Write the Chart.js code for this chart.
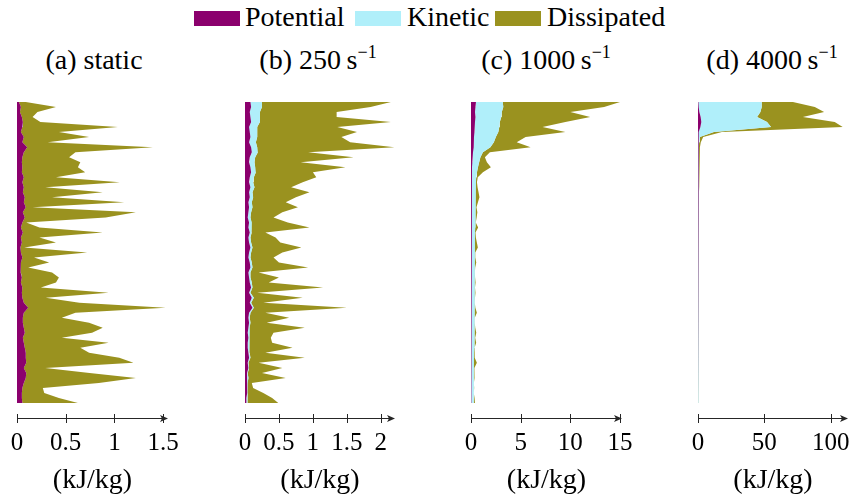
<!DOCTYPE html>
<html>
<head>
<meta charset="utf-8">
<script src="https://cdn.jsdelivr.net/npm/chart.js@4.4.1/dist/chart.umd.min.js"></script>
<style>
  body { margin: 0; background: #fff; }
  #wrap { position: relative; width: 853px; height: 497px; overflow: hidden; font-family: "Liberation Serif", "DejaVu Serif", "Times New Roman", serif; color: #000; }
  canvas { position: absolute; top: 0; }
  .title { position: absolute; top: 46px; font-size: 28px; line-height: 28px; transform: translateX(-50%); white-space: nowrap; }
  .title sup { font-size: 18px; vertical-align: 11px; line-height: 0; }
  .box { position: absolute; top: 11px; width: 46px; height: 15px; }
  .leg { position: absolute; top: 3px; font-size: 28px; line-height: 28px; white-space: nowrap; }
</style>
</head>
<body>
<div id="wrap">
  <div class="box" style="left:194px;background:#8b006d"></div>
  <div class="leg" style="left:245px">Potential</div>
  <div class="box" style="left:355px;background:#b0effa"></div>
  <div class="leg" style="left:407px">Kinetic</div>
  <div class="box" style="left:495px;background:#9a921f"></div>
  <div class="leg" style="left:547px">Dissipated</div>

  <div class="title" style="left:94px">(a) static</div>
  <div class="title" style="left:318px">(b) 250&#8201;s<sup>−1</sup></div>
  <div class="title" style="left:546px">(c) 1000&#8201;s<sup>−1</sup></div>
  <div class="title" style="left:772px">(d) 4000&#8201;s<sup>−1</sup></div>

  <canvas id="chartA" width="241" height="497" style="left:-23px"></canvas>
  <canvas id="chartB" width="240" height="497" style="left:205px"></canvas>
  <canvas id="chartC" width="241" height="497" style="left:431px"></canvas>
  <canvas id="chartD" width="240" height="497" style="left:658px"></canvas>
</div>
<script>
// Positions along the specimen (top to bottom)
const positions = Array.from({ length: 61 }, (_, i) => i);

const colors = ["#8b006d", "#b0effa", "#9a921f"];
const seriesNames = ["Potential", "Kinetic", "Dissipated"];
const fontFamily = "'Liberation Serif', 'DejaVu Serif', 'Times New Roman', serif";

// (a) static
const potA = [0.02, 0.04, 0.03, 0.05, 0.06, 0.055, 0.04, 0.07, 0.055, 0.105,
  0.07, 0.055, 0.05, 0.055, 0.05, 0.07, 0.055, 0.07, 0.06, 0.08,
  0.07, 0.09, 0.06, 0.08, 0.055, 0.04, 0.06, 0.04, 0.05, 0.035,
  0.04, 0.055, 0.04, 0.035, 0.04, 0.05, 0.04, 0.055, 0.05, 0.055,
  0.07, 0.115, 0.07, 0.06, 0.06, 0.07, 0.08, 0.06, 0.07, 0.08,
  0.09, 0.09, 0.095, 0.07, 0.095, 0.09, 0.07, 0.055, 0.05, 0.05, 0.055];
const kinA = [0, 0, 0, 0, 0, 0, 0, 0, 0, 0,
  0, 0, 0, 0, 0, 0, 0, 0, 0, 0,
  0, 0, 0, 0, 0, 0, 0, 0, 0, 0,
  0, 0, 0, 0, 0, 0, 0, 0, 0, 0,
  0, 0, 0, 0, 0, 0, 0, 0, 0, 0,
  0, 0, 0, 0, 0, 0, 0, 0, 0, 0, 0];
const dissA = [0.07, 0.36, 0.18, 0.11, 0.18, 0.98, 0.39, 0.67, 0.26, 1.29,
  0.53, 0.48, 0.60, 0.57, 0.65, 0.33, 1.00, 0.22, 0.82, 0.28,
  1.03, 0.07, 1.16, 0.83, 0.04, 0.19, 0.82, 0.19, 0.35, 0.04,
  0.68, 0.12, 0.29, 0.08, 0.32, 0.38, 0.36, 0.19, 0.89, 0.24,
  0.57, 1.41, 0.53, 0.40, 0.68, 0.81, 0.69, 0.40, 0.87, 0.57,
  0.65, 0.96, 1.10, 0.22, 0.65, 1.13, 0.77, 0.21, 0.23, 0.38, 0.57];

// (b) 250 s^-1
const potB = [0.08, 0.09, 0.07, 0.08, 0.09, 0.06, 0.07, 0.08, 0.06, 0.09,
  0.1, 0.07, 0.06, 0.08, 0.09, 0.07, 0.06, 0.08, 0.06, 0.07,
  0.05, 0.06, 0.05, 0.04, 0.06, 0.05, 0.07, 0.05, 0.06, 0.08,
  0.06, 0.05, 0.07, 0.08, 0.05, 0.06, 0.07, 0.09, 0.06, 0.1,
  0.07, 0.11, 0.06, 0.05, 0.06, 0.05, 0.04, 0.05, 0.04, 0.04,
  0.05, 0.06, 0.04, 0.05, 0.03, 0.04, 0.03, 0.03, 0.03, 0.02, 0.02];
const kinB = [0.17, 0.16, 0.15, 0.14, 0.13, 0.12, 0.11, 0.1, 0.1, 0.09,
  0.09, 0.08, 0.08, 0.07, 0.07, 0.06, 0.06, 0.06, 0.05, 0.05,
  0.05, 0.05, 0.04, 0.04, 0.04, 0.04, 0.03, 0.03, 0.03, 0.03,
  0.03, 0.03, 0.03, 0.03, 0.03, 0.02, 0.03, 0.02, 0.02, 0.03,
  0.02, 0.02, 0.02, 0.02, 0.02, 0.02, 0.02, 0.02, 0.02, 0.02,
  0.02, 0.02, 0.01, 0.01, 0.01, 0.01, 0.01, 0.01, 0.01, 0.01, 0.01];
const dissB = [1.90, 1.60, 1.13, 1.13, 1.93, 1.18, 1.47, 1.24, 1.39, 2.02,
  0.74, 1.45, 0.68, 1.33, 0.84, 0.92, 0.73, 0.54, 0.84, 0.63,
  0.50, 0.67, 0.46, 0.34, 0.53, 0.86, 0.20, 0.37, 0.43, 0.72,
  0.46, 0.34, 0.40, 0.82, 0.12, 0.42, 0.25, 1.04, 0.10, 0.72,
  0.18, 1.37, 0.22, 0.58, 0.24, 0.81, 0.36, 0.31, 0.34, 0.64,
  0.23, 0.80, 0.15, 0.49, 0.21, 0.55, 0.06, 0.08, 0.23, 0.37, 0.46];

// (c) 1000 s^-1
const potC = [0.5, 0.45, 0.4, 0.45, 0.4, 0.35, 0.35, 0.3, 0.3, 0.25,
  0.2, 0.15, 0.12, 0.1, 0.1, 0.08, 0.08, 0.06, 0.06, 0.05,
  0.05, 0.05, 0.04, 0.04, 0.05, 0.04, 0.04, 0.03, 0.04, 0.04,
  0.03, 0.03, 0.04, 0.03, 0.03, 0.03, 0.03, 0.03, 0.03, 0.03,
  0.03, 0.03, 0.03, 0.03, 0.03, 0.03, 0.03, 0.03, 0.03, 0.03,
  0.02, 0.02, 0.02, 0.02, 0.02, 0.02, 0.02, 0.02, 0.02, 0.02, 0.02];
const kinC = [2.7, 2.8, 2.7, 2.6, 2.5, 2.5, 2.4, 2.2, 2.0, 1.7,
  1.0, 0.8, 0.7, 0.6, 0.5, 0.45, 0.42, 0.4, 0.4, 0.4,
  0.4, 0.4, 0.4, 0.38, 0.38, 0.38, 0.36, 0.36, 0.35, 0.35,
  0.35, 0.35, 0.34, 0.34, 0.33, 0.33, 0.33, 0.32, 0.32, 0.32,
  0.32, 0.31, 0.31, 0.3, 0.3, 0.3, 0.3, 0.29, 0.29, 0.28,
  0.28, 0.28, 0.27, 0.27, 0.26, 0.26, 0.25, 0.25, 0.24, 0.24, 0.23];
const dissC = [11.8, 10.15, 6.9, 8.95, 6.6, 4.35, 6.75, 3.0, 2.3, 4.05,
  0.7, 0.45, 0.78, 1.3, 0.6, 0.15, 0.1, 0.2, 0.3, 0.4,
  0.25, 0.1, 0.2, 0.15, 0.05, 0.3, 0.05, 0.1, 0.2, 0.3,
  0.05, 0.05, 0.15, 0.05, 0.03, 0.05, 0.1, 0.05, 0.1, 0.05,
  0.03, 0.1, 0.25, 0.05, 0.05, 0.1, 0.2, 0.1, 0.2, 0.05,
  0.05, 0.1, 0.3, 0.05, 0.1, 0.05, 0.02, 0.05, 0.02, 0.1, 0.15];

// (d) 4000 s^-1
const potD = [0.3, 0.5, 1.0, 2.0, 2.5, 1.8, 0.5, 0.2, 0.1, 0.05,
  0.03, 0.02, 0.02, 0.02, 0.02, 0.02, 0.02, 0.02, 0.02, 0.02,
  0.02, 0.02, 0.02, 0.02, 0.01, 0.01, 0.01, 0.01, 0.01, 0.01,
  0.01, 0.01, 0.01, 0.01, 0.01, 0.01, 0.01, 0.01, 0.01, 0.01,
  0.01, 0.01, 0.01, 0.01, 0.01, 0.01, 0.01, 0.01, 0.01, 0.01,
  0.01, 0.01, 0.01, 0.01, 0.01, 0.01, 0.01, 0.01, 0.01, 0.01, 0.01];
const kinD = [47.7, 47.5, 46, 42.5, 49.5, 53.2, 11.5, 1.2, 0.8, 0.6,
  0.5, 0.5, 0.45, 0.45, 0.45, 0.4, 0.4, 0.4, 0.4, 0.4,
  0.4, 0.38, 0.38, 0.38, 0.36, 0.36, 0.36, 0.35, 0.35, 0.35,
  0.35, 0.34, 0.34, 0.33, 0.33, 0.33, 0.32, 0.32, 0.32, 0.31,
  0.31, 0.3, 0.3, 0.3, 0.3, 0.29, 0.29, 0.29, 0.28, 0.28,
  0.28, 0.27, 0.27, 0.27, 0.26, 0.26, 0.26, 0.25, 0.25, 0.25, 0.24];
const dissD = [23.5, 40, 48, 34.5, 51, 54, 6, 2.5, 1.2, 0.8,
  0.6, 0.5, 0.5, 0.45, 0.4, 0.4, 0.35, 0.35, 0.3, 0.3,
  0.3, 0.3, 0.28, 0.28, 0.25, 0.25, 0.25, 0.22, 0.22, 0.2,
  0.2, 0.2, 0.2, 0.18, 0.18, 0.18, 0.15, 0.15, 0.15, 0.15,
  0.15, 0.12, 0.12, 0.12, 0.12, 0.1, 0.1, 0.1, 0.1, 0.1,
  0.1, 0.1, 0.08, 0.08, 0.08, 0.08, 0.08, 0.06, 0.06, 0.06, 0.06];

// Axis line with arrow and crossing tick marks (pgfplots style)
const axisArrow = {
  id: "axisArrow",
  afterDraw(chart) {
    const { ctx, chartArea } = chart;
    const scale = chart.scales.x;
    const y = Math.round(chartArea.bottom + 15) + 0.5;
    const left = scale.getPixelForValue(0);
    const right = chartArea.right;
    ctx.save();
    ctx.strokeStyle = "#262626";
    ctx.fillStyle = "#262626";
    ctx.lineWidth = 1;
    ctx.beginPath();
    ctx.moveTo(left, y);
    ctx.lineTo(right - 4, y);
    ctx.stroke();
    scale.ticks.forEach((t) => {
      const px = Math.round(scale.getPixelForValue(t.value)) + 0.5;
      ctx.beginPath();
      ctx.moveTo(px, y - 4.5);
      ctx.lineTo(px, y + 4.5);
      ctx.stroke();
    });
    ctx.beginPath();
    ctx.moveTo(right, y);
    ctx.lineTo(right - 8, y - 3.5);
    ctx.lineTo(right - 6, y);
    ctx.lineTo(right - 8, y + 3.5);
    ctx.closePath();
    ctx.fill();
    ctx.restore();
  },
};

function makeDataset(i, values) {
  return {
    label: seriesNames[i],
    data: values,
    backgroundColor: colors[i],
    borderColor: colors[i],
    borderWidth: 0,
    pointRadius: 0,
    tension: 0,
    fill: i === 0 ? "origin" : "-1",
  };
}

function makeChart(id, pot, kin, diss, max, step) {
  const ctx = document.getElementById(id).getContext("2d");
  return new Chart(ctx, {
    type: "line",
    data: {
      labels: positions,
      datasets: [makeDataset(0, pot), makeDataset(1, kin), makeDataset(2, diss)],
    },
    options: {
      indexAxis: "y",
      responsive: false,
      animation: false,
      devicePixelRatio: 1,
      layout: { padding: { left: 40, right: 50, top: 102, bottom: 0 } },
      plugins: {
        legend: { display: false },
        tooltip: { enabled: false },
      },
      scales: {
        y: { display: false, offset: false },
        x: {
          stacked: true,
          min: 0,
          max: max,
          grid: { display: false, drawTicks: false },
          border: { display: false },
          ticks: {
            stepSize: step,
            includeBounds: false,
            maxRotation: 0,
            autoSkip: false,
            color: "#000",
            padding: 25,
            font: { family: fontFamily, size: 25 },
            callback: (v) => String(Number(v.toFixed(2))),
          },
          title: {
            display: true,
            text: "(kJ/kg)",
            color: "#000",
            padding: { top: 0, bottom: 0 },
            font: { family: fontFamily, size: 28 },
          },
          afterFit: (scale) => {
            scale.height = 94;
          },
        },
      },
    },
    plugins: [axisArrow],
  });
}

makeChart("chartA", potA, kinA, dissA, 1.55, 0.5);
makeChart("chartB", potB, kinB, dissB, 2.21, 0.5);
makeChart("chartC", potC, kinC, dissC, 15.2, 5);
makeChart("chartD", potD, kinD, dissD, 113, 50);
</script>
</body>
</html>
